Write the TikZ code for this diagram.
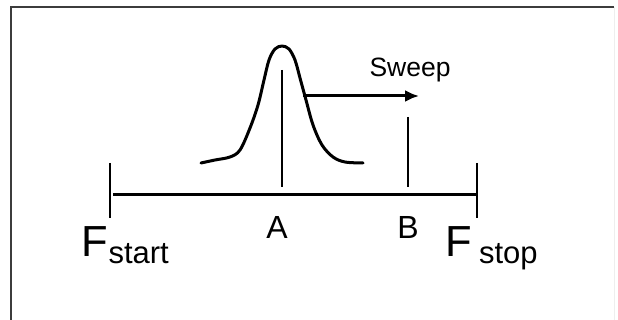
\documentclass[tikz,border=0pt]{standalone}
\usepackage{fontspec}
\setmainfont{Liberation Sans}
\usetikzlibrary{arrows.meta}
\definecolor{framegray}{HTML}{3C3C3C}
\definecolor{faintgray}{HTML}{EEEEEE}
\tikzset{
  frameline/.style={draw=framegray,line width=2pt},
  axisline/.style={draw=black,line width=3pt},
  tickline/.style={draw=black,line width=2.4pt},
  markline/.style={draw=black,line width=2.8pt},
  curveline/.style={draw=black,line width=3pt,line join=round,line cap=round},
  sweeparrow/.style={draw=black,line width=3pt,-{Latex[length=14pt,width=12pt]}},
  lbl/.style={inner sep=0pt,outer sep=0pt},
}
\newcommand{\bigF}{\fontsize{43.5}{44}\selectfont}
\newcommand{\subtxt}{\fontsize{31}{31}\selectfont}
\newcommand{\ptlbl}{\fontsize{32}{32}\selectfont}
\newcommand{\swtxt}{\fontsize{26.5}{27}\selectfont}
\begin{document}
\begin{tikzpicture}[x=1pt,y=-1pt]
\useasboundingbox (0,0) rectangle (618,320);
\fill[white] (0,0) rectangle (618,320);
% frame
\coordinate (frTL) at (11,7.5);
\coordinate (frTR) at (614,7.5);
\coordinate (frBL) at (11,320);
\coordinate (frBR) at (614,320);
\draw[draw=faintgray,line width=1pt] (frTR) -- (frBR);
\draw[frameline] (frBL) -- (frTL) -- (frTR);
% axis
\coordinate (axL) at (113,195);
\coordinate (axR) at (477,195);
\draw[axisline] (axL) -- (axR);
\coordinate (tkLtop) at (110,163);
\coordinate (tkLbot) at (110,218);
\coordinate (tkRtop) at (477,163);
\coordinate (tkRbot) at (477,218);
\draw[tickline] (tkLtop) -- (tkLbot);
\draw[tickline] (tkRtop) -- (tkRbot);
% markers A and B
\coordinate (Atop) at (282,70);
\coordinate (Abot) at (282,187);
\coordinate (Btop) at (408,117);
\coordinate (Bbot) at (408,187);
\draw[markline] (Atop) -- (Abot);
\draw[markline] (Btop) -- (Bbot);
% gaussian
\draw[curveline] plot[smooth,tension=0.55] coordinates {
 (201,163) (215,160) (230,157) (240,150) (250,128) (258,105) (264,80) (269,60)
 (275,49) (282,46) (289,49) (295,60) (300,78) (306,100) (313,125) (322,145)
 (333,157) (345,162) (363,163)};
% sweep arrow
\coordinate (swS) at (303,96);
\coordinate (swE) at (419,96);
\draw[sweeparrow] (swS) -- (swE);
\node[lbl,anchor=base west] (sweep) at (369.5,77) {\swtxt Sweep};
% labels
\node[lbl,anchor=base] (labA) at (277,239) {\ptlbl A};
\node[lbl,anchor=base] (labB) at (408,239) {\ptlbl B};
\node[lbl,anchor=base west] (Fs) at (81.5,257) {\bigF F};
\node[lbl,anchor=base west] (Fssub) at (108.5,263) {\subtxt start};
\node[lbl,anchor=base west] (Fe) at (445.5,257) {\bigF F};
\node[lbl,anchor=base west] (Fesub) at (479,263) {\subtxt stop};
\end{tikzpicture}
\end{document}
